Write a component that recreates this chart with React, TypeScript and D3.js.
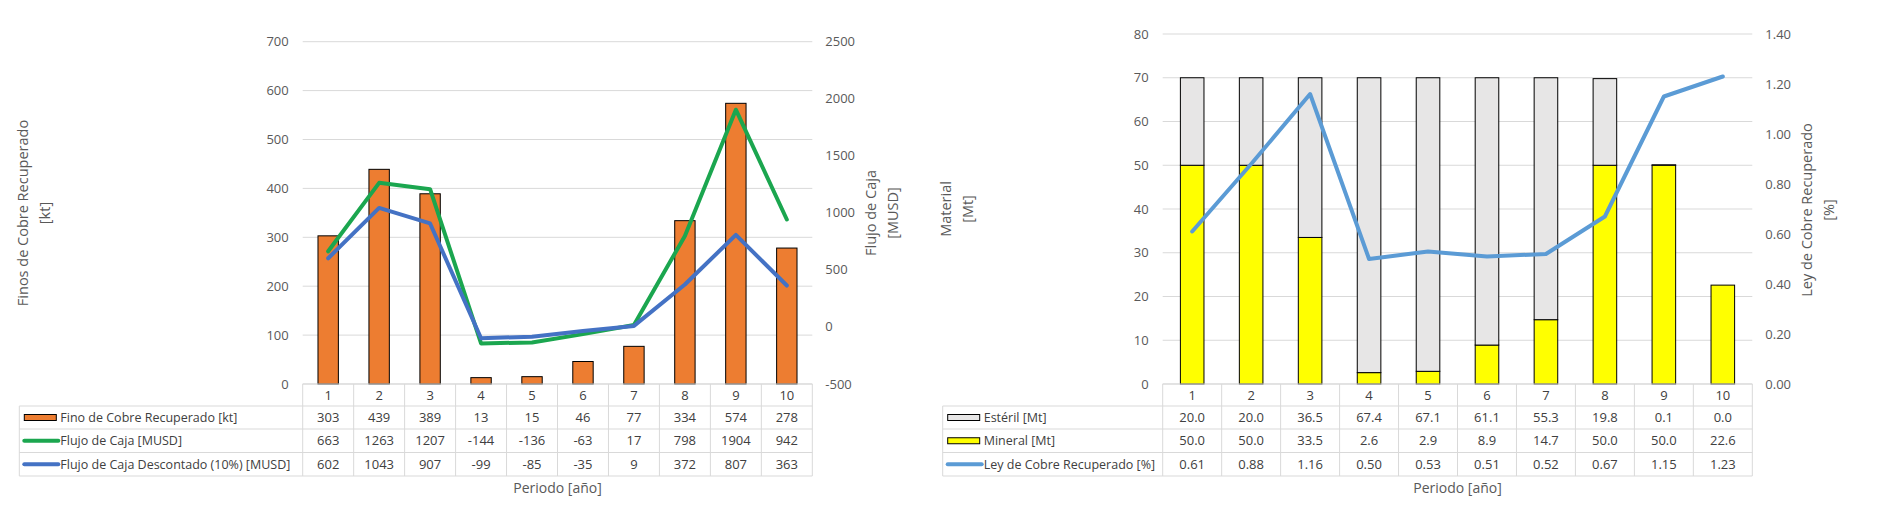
import React from 'react';
import * as d3 from 'd3';

const periodos = ['1', '2', '3', '4', '5', '6', '7', '8', '9', '10'];
const finoCobre = [303, 439, 389, 13, 15, 46, 77, 334, 574, 278];
const flujoCaja = [663, 1263, 1207, -144, -136, -63, 17, 798, 1904, 942];
const flujoDescontado = [602, 1043, 907, -99, -85, -35, 9, 372, 807, 363];

const esteril = [20.0, 20.0, 36.5, 67.4, 67.1, 61.1, 55.3, 19.8, 0.1, 0.0];
const mineral = [50.0, 50.0, 33.5, 2.6, 2.9, 8.9, 14.7, 50.0, 50.0, 22.6];
const leyCobre = [0.61, 0.88, 1.16, 0.5, 0.53, 0.51, 0.52, 0.67, 1.15, 1.23];

const ticksFinos = [0, 100, 200, 300, 400, 500, 600, 700];
const ticksFlujo = [-500, 0, 500, 1000, 1500, 2000, 2500];
const ticksMaterial = [0, 10, 20, 30, 40, 50, 60, 70, 80];
const ticksLey = [0, 0.2, 0.4, 0.6, 0.8, 1.0, 1.2, 1.4];

const FONT = "'Open Sans', 'Noto Sans', sans-serif";
const GRID = '#d9d9d9';
const AXIS_TXT = '#595959';
const TABLE_TXT = '#404040';
const ROWS = [384, 406, 429, 452.5, 476];

// guion normal para los negativos, como en Excel
const locale = d3.formatLocale({ decimal: '.', thousands: '', grouping: [3], currency: ['', ''], minus: '-' });
const fmtInt = locale.format('d');
const fmt1 = locale.format('.1f');
const fmt2 = locale.format('.2f');

const AxisTitle = ({ x, y, lines }) => (
  <text transform={`translate(${x},${y}) rotate(-90)`} textAnchor="middle"
    fontFamily={FONT} fontSize={14.5} fill={AXIS_TXT}>
    {lines.map((l, i) => (
      <tspan key={i} x={0} y={(i - (lines.length - 1) / 2) * 22 + 5}>{l}</tspan>
    ))}
  </text>
);

const Axes = ({ x, yL, yR, leftTicks, rightTicks, leftFmt, rightFmt }) => {
  const [x0, x1] = x.range();
  return (
    <g fontFamily={FONT} fontSize={13} fill={AXIS_TXT}>
      {leftTicks.map(t => (
        <g key={'l' + t}>
          <line x1={x0} x2={x1} y1={yL(t)} y2={yL(t)} stroke={GRID} strokeWidth={1} />
          <text x={x0 - 14} y={yL(t) + 4.5} textAnchor="end">{leftFmt(t)}</text>
        </g>
      ))}
      {rightTicks.map(t => (
        <text key={'r' + t} x={x1 + 13} y={yR(t) + 4.5}>{rightFmt(t)}</text>
      ))}
    </g>
  );
};

const Symbol = ({ x, y, s }) => s.type === 'rect'
  ? <rect x={x} y={y - 3} width={32} height={6} fill={s.color} stroke="#000" strokeWidth={1} />
  : <line x1={x} x2={x + 34} y1={y} y2={y} stroke={s.color} strokeWidth={4} strokeLinecap="round" />;

const DataTable = ({ x, tableLeft, rows }) => {
  const [x0, x1] = x.range();
  const bw = x.step();
  return (
    <g fontFamily={FONT} fill={TABLE_TXT}>
      {/* bordes */}
      <line x1={x0} x2={x1} y1={ROWS[0]} y2={ROWS[0]} stroke={GRID} />
      {ROWS.slice(1).map(r => (
        <line key={r} x1={tableLeft} x2={x1} y1={r} y2={r} stroke={GRID} />
      ))}
      <line x1={tableLeft} x2={tableLeft} y1={ROWS[1]} y2={ROWS[4]} stroke={GRID} />
      {periodos.map((p, i) => (
        <line key={'v' + i} x1={x0 + i * bw} x2={x0 + i * bw} y1={ROWS[0]} y2={ROWS[4]} stroke={GRID} />
      ))}
      <line x1={x1} x2={x1} y1={ROWS[0]} y2={ROWS[4]} stroke={GRID} />
      {/* encabezado de periodos */}
      {periodos.map(p => (
        <text key={'h' + p} x={x(p) + bw / 2} y={(ROWS[0] + ROWS[1]) / 2 + 4.5}
          textAnchor="middle" fontSize={13}>{p}</text>
      ))}
      {rows.map((r, j) => {
        const cy = (ROWS[j + 1] + ROWS[j + 2]) / 2;
        return (
          <g key={r.label}>
            <Symbol x={tableLeft + 5} y={cy} s={r.symbol} />
            <text x={tableLeft + 41} y={cy + 4.5} fontSize={12.5}>{r.label}</text>
            {r.values.map((v, i) => (
              <text key={i} x={x(periodos[i]) + bw / 2} y={cy + 4.5} textAnchor="middle" fontSize={13}>
                {r.fmt(v)}
              </text>
            ))}
          </g>
        );
      })}
    </g>
  );
};

const ChartCobre = () => {
  const x = d3.scaleBand().domain(periodos).range([302.7, 812.3]);
  const yL = d3.scaleLinear().domain([0, 700]).range([384, 41.7]);
  const yR = d3.scaleLinear().domain([-500, 2500]).range([384, 41.7]);
  const cx = p => x(p) + x.bandwidth() / 2;
  const bw = x.bandwidth() * 0.4;
  const line = d3.line().x((d, i) => cx(periodos[i])).y(d => yR(d));

  return (
    <g>
      <Axes x={x} yL={yL} yR={yR} leftTicks={ticksFinos} rightTicks={ticksFlujo}
        leftFmt={fmtInt} rightFmt={fmtInt} />
      {finoCobre.map((v, i) => (
        <rect key={i} x={cx(periodos[i]) - bw / 2} y={yL(v)} width={bw} height={yL(0) - yL(v)}
          fill="#ED7D31" stroke="#000" strokeWidth={1} />
      ))}
      <path d={line(flujoCaja)} fill="none" stroke="#1BA64F" strokeWidth={4} strokeLinejoin="round" strokeLinecap="round" />
      <path d={line(flujoDescontado)} fill="none" stroke="#4472C4" strokeWidth={4} strokeLinejoin="round" strokeLinecap="round" />
      <DataTable x={x} tableLeft={19.3} rows={[
        { label: 'Fino de Cobre Recuperado [kt]', symbol: { type: 'rect', color: '#ED7D31' }, values: finoCobre, fmt: fmtInt },
        { label: 'Flujo de Caja [MUSD]', symbol: { type: 'line', color: '#1BA64F' }, values: flujoCaja, fmt: fmtInt },
        { label: 'Flujo de Caja Descontado (10%) [MUSD]', symbol: { type: 'line', color: '#4472C4' }, values: flujoDescontado, fmt: fmtInt },
      ]} />
      <AxisTitle x={34} y={213} lines={['Finos de Cobre Recuperado', '[kt]']} />
      <AxisTitle x={882} y={213} lines={['Flujo de Caja', '[MUSD]']} />
      <text x={557.5} y={493} textAnchor="middle" fontFamily={FONT} fontSize={14} fill={AXIS_TXT}>Periodo [año]</text>
    </g>
  );
};

const ChartMaterial = () => {
  const x = d3.scaleBand().domain(periodos).range([1162.7, 1752.3]);
  const yL = d3.scaleLinear().domain([0, 80]).range([384, 34]);
  const yR = d3.scaleLinear().domain([0, 1.4]).range([384, 34]);
  const cx = p => x(p) + x.bandwidth() / 2;
  const bw = x.bandwidth() * 0.4;
  const tabla = periodos.map((p, i) => ({ p, mineral: mineral[i], esteril: esteril[i] }));
  const stack = d3.stack().keys(['mineral', 'esteril'])(tabla);
  const colores = { mineral: '#FFFF00', esteril: '#E7E6E6' };
  const line = d3.line().x((d, i) => cx(periodos[i])).y(d => yR(d));

  return (
    <g>
      <Axes x={x} yL={yL} yR={yR} leftTicks={ticksMaterial} rightTicks={ticksLey}
        leftFmt={fmtInt} rightFmt={fmt2} />
      {stack.map(s => s.filter(d => d[1] - d[0] > 0).map(d => (
        <rect key={s.key + d.data.p} x={cx(d.data.p) - bw / 2} y={yL(d[1])} width={bw}
          height={yL(d[0]) - yL(d[1])} fill={colores[s.key]} stroke="#000" strokeWidth={1} />
      )))}
      <path d={line(leyCobre)} fill="none" stroke="#5B9BD5" strokeWidth={4} strokeLinejoin="round" strokeLinecap="round" />
      <DataTable x={x} tableLeft={942.7} rows={[
        { label: 'Estéril [Mt]', symbol: { type: 'rect', color: '#E7E6E6' }, values: esteril, fmt: fmt1 },
        { label: 'Mineral [Mt]', symbol: { type: 'rect', color: '#FFFF00' }, values: mineral, fmt: fmt1 },
        { label: 'Ley de Cobre Recuperado [%]', symbol: { type: 'line', color: '#5B9BD5' }, values: leyCobre, fmt: fmt2 },
      ]} />
      <AxisTitle x={957} y={209} lines={['Material', '[Mt]']} />
      <AxisTitle x={1818} y={210} lines={['Ley de Cobre Recuperado', '[%]']} />
      <text x={1457.5} y={493} textAnchor="middle" fontFamily={FONT} fontSize={14} fill={AXIS_TXT}>Periodo [año]</text>
    </g>
  );
};

export default function App() {
  return (
    <svg width={1882} height={510} style={{ position: 'absolute', left: 0, top: 0, background: '#fff' }}>
      <rect width={1882} height={510} fill="#fff" />
      <ChartCobre />
      <ChartMaterial />
    </svg>
  );
}
